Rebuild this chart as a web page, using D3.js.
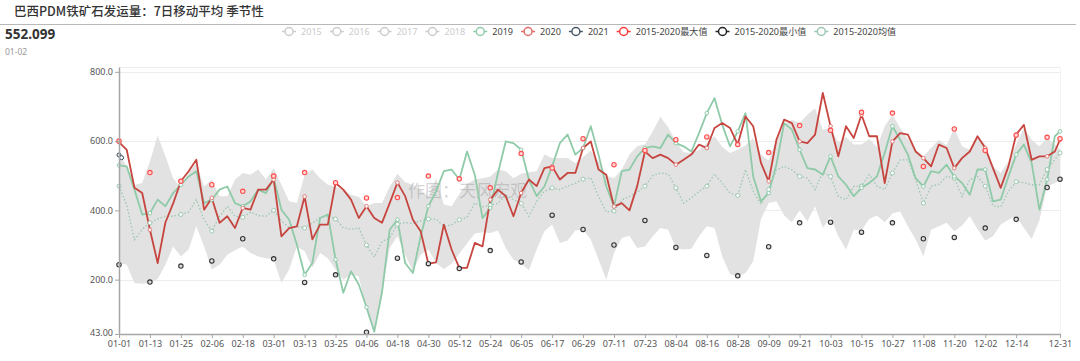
<!DOCTYPE html>
<html><head><meta charset="utf-8">
<script src="https://cdn.jsdelivr.net/npm/d3@7"></script>
<style>
body{margin:0;background:#fff;}
svg{display:block;font-family:"Noto Sans","Noto Sans CJK SC",sans-serif;}
</style>
</head><body>
<svg id="c" width="1080" height="361"></svg>
<script>
// ---------- DATA ----------
// sampled every 3 days of the (leap) year, plus 12-31
const sampleDays = d3.range(0, 364, 3).concat([365]);
// days carrying symbols
const markerDays = d3.range(0, 361, 12).concat([365]);
const tickDays = d3.range(0, 349, 12).concat([365]);
const tickLabels = ["01-01","01-13","01-25","02-06","02-18","03-01","03-13","03-25","04-06","04-18","04-30","05-12","05-24","06-05","06-17","06-29","07-11","07-23","08-04","08-16","08-28","09-09","09-21","10-03","10-15","10-27","11-08","11-20","12-02","12-14","12-31"];
const yTicks = [43, 200, 400, 600, 800];
const yTickLabels = ["43.00", "200.0", "400.0", "600.0", "800.0"];

const s2019 = [530,527,460,388,392,431,412,450,474,498,513,421,431,460,469,421,412,426,460,450,493,402,373,301,214,248,378,388,258,162,224,186,120,50,162,344,373,248,219,325,412,455,
  513,518,489,570,503,378,407,508,599,594,575,489,441,469,527,594,619,561,580,643,561,469,412,513,518,556,580,585,580,619,594,585,570,623,681,724,647,585,628,681,498,
  426,450,532,652,633,575,522,518,503,556,498,474,441,465,479,498,566,643,604,561,493,469,513,508,532,498,479,445,518,518,426,431,498,561,590,537,402,489,614,628];

const s2020 = [597,575,465,450,344,248,365,420,484,513,546,402,436,364,383,349,407,402,460,460,489,325,349,354,440,316,359,359,479,460,431,378,412,378,364,421,480,441,373,340,246,250,
  359,287,234,234,306,296,431,460,441,383,450,489,470,522,527,489,508,508,580,599,518,503,411,421,400,470,570,551,561,551,532,546,561,590,580,638,652,638,590,671,643,
  537,484,604,662,652,599,594,619,739,643,556,643,609,676,614,614,479,599,623,619,570,551,527,590,580,522,551,570,614,580,522,465,527,619,647,546,556,556,570,604];

const s2021Days = [0, 1];
const s2021 = [560, 552.099];

const sMean = [470,415,315,345,364,375,383,383,388,395,431,373,340,383,412,383,380,395,385,383,400,370,350,354,349,363,380,385,375,350,345,350,300,265,310,320,360,365,362,370,375,375,
  354,358,373,380,421,410,415,420,445,431,420,383,426,455,465,460,470,478,490,494,440,395,398,430,440,452,470,500,508,505,465,421,436,455,470,505,478,450,443,518,455,
  417,460,517,527,517,498,493,460,510,498,440,431,469,470,503,470,460,508,546,546,489,421,470,475,498,493,440,489,498,470,413,410,455,483,480,474,474,518,547,566];

const bandHigh = [566,527,474,479,542,616,556,493,465,508,537,469,489,441,441,489,508,503,518,489,522,474,426,421,503,518,493,474,469,458,445,439,412,421,421,468,506,481,474,458,441,493,
  417,412,447,477,489,493,498,518,513,493,506,510,513,561,551,551,551,537,554,573,542,500,493,518,561,585,590,628,670,640,599,568,566,575,594,614,583,566,575,587,609,
  561,544,604,647,662,652,676,695,633,638,596,612,590,590,606,583,643,676,638,606,575,556,580,604,588,638,585,575,609,592,527,508,542,590,638,604,585,609,590,575];

const bandLow = [248,243,190,188,190,202,243,296,267,287,354,296,229,243,272,285,296,277,267,262,258,190,229,296,282,234,277,262,229,200,214,210,110,45,162,291,325,272,224,272,287,248,
  231,246,275,304,333,337,335,342,291,258,246,227,287,340,359,306,313,342,344,316,258,200,277,320,327,291,296,325,349,344,291,287,289,325,354,349,267,216,208,219,253,
  375,421,426,385,366,400,368,412,349,381,325,287,344,342,375,385,366,391,397,354,316,267,344,354,364,340,356,383,346,313,325,359,373,383,349,317,371,469,479,488];

const maxMarkers = [600,509,484,474,455,499,509,480,436,437,499,491,465,564,522,607,532,573,604,612,590,567,645,631,683,681,527,635,573,617,611,607];
const minMarkers = [243,193,239,254,318,260,192,214,48,262,246,232,284,251,386,345,300,371,293,270,211,295,364,366,337,364,318,322,349,374,466,490];

const legendNames = ["2015","2016","2017","2018","2019","2020","2021","2015-2020最大值","2015-2020最小值","2015-2020均值"];
const legendColors = ["#cccccc","#cccccc","#cccccc","#cccccc","#8fcaa9","#e06b6b","#4a5a6a","#ff3b3b","#222222","#9cc7b1"];
const legendActive = [false,false,false,false,true,true,true,true,true,true];

// ---------- CHART ----------
const svg = d3.select("#c");
const x = d3.scaleLinear().domain([0, 365]).range([119, 1060]);
const y = d3.scaleLinear().domain([43, 814]).range([334, 67]);

// title
svg.append("text").attr("x", 14).attr("y", 16).attr("font-size", 12.5)
  .attr("font-family", "'Noto Sans CJK SC',sans-serif").attr("fill", "#333")
  .attr("font-weight", 500)
  .text("巴西PDM铁矿石发运量：7日移动平均 季节性");
svg.append("line").attr("x1", 0).attr("x2", 1076).attr("y1", 24.5).attr("y2", 24.5)
  .attr("stroke", "#b8b8b8").attr("stroke-width", 1);
svg.append("text").attr("x", 5).attr("y", 39).attr("font-size", 13.5).attr("font-weight", "bold")
  .attr("fill", "#333").text("552.099");
svg.append("text").attr("x", 5).attr("y", 55).attr("font-size", 8.5).attr("fill", "#999").text("01-02");

// gridlines
const gridVals = [200, 400, 600, 800, 814];
svg.append("g").selectAll("line").data(gridVals).join("line")
  .attr("x1", 119).attr("x2", 1060)
  .attr("y1", d => Math.round(y(d)) + 0.5).attr("y2", d => Math.round(y(d)) + 0.5)
  .attr("stroke", "#ececec").attr("stroke-width", 1);
svg.append("line").attr("x1", 1060.5).attr("x2", 1060.5).attr("y1", y(814)).attr("y2", y(43))
  .attr("stroke", "#f2f2f2");

// band
const band = d3.area()
  .x((d, i) => x(sampleDays[i]))
  .y0((d, i) => y(bandLow[i]))
  .y1((d, i) => y(bandHigh[i]));
svg.append("path").datum(bandHigh).attr("d", band).attr("fill", "#e2e2e2");

// watermark
svg.append("text").attr("x", 408).attr("y", 197).attr("font-size", 17)
  .attr("font-family", "'Noto Sans CJK SC',sans-serif")
  .attr("fill", "rgba(130,130,130,0.35)").text("作图：天风宏观");

const line = d3.line().x((d, i) => x(sampleDays[i])).y(d => y(d));

// mean (dotted)
svg.append("path").datum(sMean).attr("d", line).attr("fill", "none")
  .attr("stroke", "#9cc7b1").attr("stroke-width", 1.3).attr("stroke-dasharray", "1.5,2");
// 2019
svg.append("path").datum(s2019).attr("d", line).attr("fill", "none")
  .attr("stroke", "#8fcaa9").attr("stroke-width", 1.8).attr("stroke-linejoin", "round");
// 2020
svg.append("path").datum(s2020).attr("d", line).attr("fill", "none")
  .attr("stroke", "#c6453f").attr("stroke-width", 1.8).attr("stroke-linejoin", "round");
// 2021
svg.append("path").datum(s2021)
  .attr("d", d3.line().x((d, i) => x(s2021Days[i])).y(d => y(d)))
  .attr("fill", "none").attr("stroke", "#2f4554").attr("stroke-width", 2);

// symbols on sampled series at marker days
function seriesMarkers(arr, color, r) {
  const pts = sampleDays.map((d, i) => [d, arr[i]]).filter(p => markerDays.includes(p[0]));
  svg.append("g").selectAll("circle").data(pts).join("circle")
    .attr("cx", p => x(p[0])).attr("cy", p => y(p[1])).attr("r", r)
    .attr("fill", "#fff").attr("stroke", color).attr("stroke-width", 1);
}
seriesMarkers(sMean, "#9cc7b1", 2);
seriesMarkers(s2019, "#8fcaa9", 1.8);
seriesMarkers(s2020, "#e07b78", 1.8);

svg.append("g").selectAll("circle").data(s2021).join("circle")
  .attr("cx", (d, i) => x(s2021Days[i])).attr("cy", d => y(d)).attr("r", 2)
  .attr("fill", "#fff").attr("stroke", "#2f4554").attr("stroke-width", 1);

svg.append("g").selectAll("circle").data(maxMarkers).join("circle")
  .attr("cx", (d, i) => x(markerDays[i])).attr("cy", d => y(d)).attr("r", 2.2)
  .attr("fill", "#ffd6d6").attr("stroke", "#ff4c4c").attr("stroke-width", 1.1);
svg.append("g").selectAll("circle").data(minMarkers).join("circle")
  .attr("cx", (d, i) => x(markerDays[i])).attr("cy", d => y(d)).attr("r", 2.2)
  .attr("fill", "#ddd").attr("stroke", "#333").attr("stroke-width", 1.1);

// axes
const yAxis = svg.append("g").attr("transform", "translate(119,0)")
  .call(d3.axisLeft(y).tickValues(yTicks).tickFormat((d, i) => yTickLabels[i]).tickSize(4).tickSizeOuter(0));
yAxis.select(".domain").attr("stroke", "#a6a6a6").attr("stroke-width", 1.5);
yAxis.selectAll(".tick line").attr("stroke", "#a6a6a6");
yAxis.selectAll(".tick text").attr("font-size", 9).attr("fill", "#555")
  .attr("font-family", "'Noto Sans',sans-serif").attr("x", -6)
  .attr("dy", (d, i) => i === 0 ? "0.15em" : "0.32em");

const xAxis = svg.append("g").attr("transform", "translate(0,334)")
  .call(d3.axisBottom(x).tickValues(tickDays).tickFormat((d, i) => tickLabels[i]).tickSize(4).tickSizeOuter(0));
xAxis.select(".domain").attr("stroke", "#a6a6a6").attr("stroke-width", 1.5);
xAxis.selectAll(".tick line").attr("stroke", "#a6a6a6");
xAxis.selectAll(".tick text").attr("font-size", 9).attr("fill", "#555")
  .attr("font-family", "'Noto Sans',sans-serif").attr("dy", "0.71em").attr("y", 7);

// legend
const lg = svg.append("g");
let cx = 282;
legendNames.forEach((name, i) => {
  const col = legendColors[i];
  const g = lg.append("g");
  g.append("line").attr("x1", cx).attr("x2", cx + 14).attr("y1", 31.5).attr("y2", 31.5)
    .attr("stroke", col).attr("stroke-width", 1.5);
  g.append("circle").attr("cx", cx + 7).attr("cy", 31.5).attr("r", 4)
    .attr("fill", "#fff").attr("stroke", col).attr("stroke-width", 1.5);
  const t = g.append("text").attr("x", cx + 19).attr("y", 34.8).attr("font-size", 9.1)
    .attr("font-family", "'Noto Sans','Noto Sans CJK SC',sans-serif")
    .attr("fill", legendActive[i] ? "#444" : "#ccc").text(name);
  cx += 19 + t.node().getComputedTextLength() + 8;
});
</script>
</body></html>
